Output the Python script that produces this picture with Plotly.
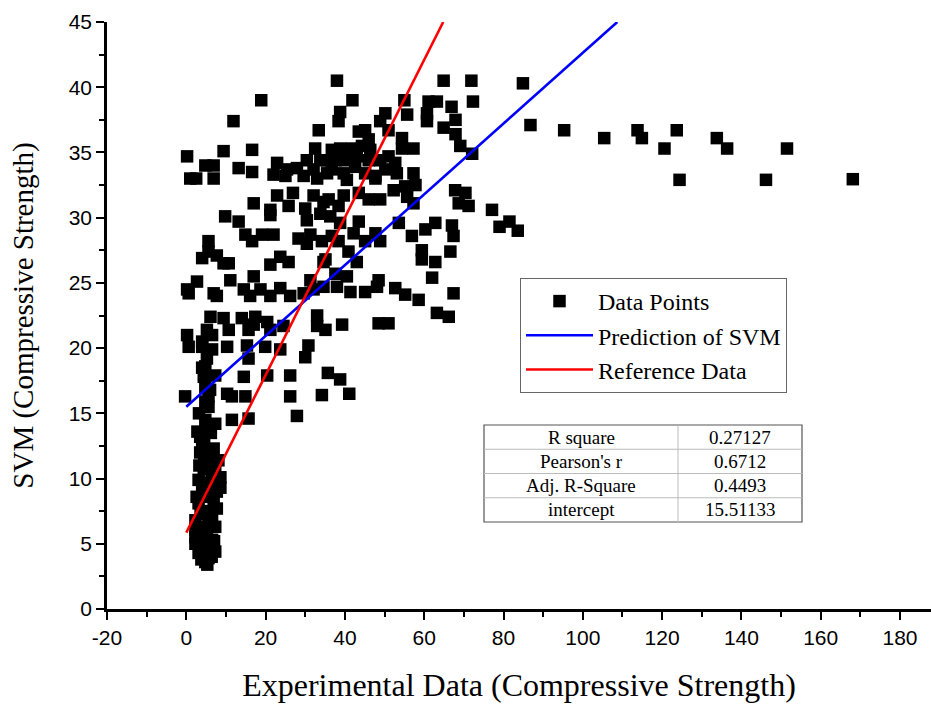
import plotly.graph_objects as go

# ---- Data points (Experimental vs SVM compressive strength) ----
far_right = [(84.9,40.3),(86.8,37.1),(95.3,36.7),(105.4,36.1),(113.8,36.7),(114.9,36.1),(120.6,35.3),
             (123.7,36.7),(124.4,32.9),(133.8,36.1),(136.4,35.3),(146.2,32.9),(151.5,35.3),(168.1,32.95),
             (77.1,30.6),(79.0,29.3),(81.5,29.7),(83.6,29.0)]
mid_upper = [(38.0,40.5),(64.9,40.5),(71.9,40.5),(41.9,39.0),(72.3,38.9),(55.0,39.0),(38.8,38.1),(38.4,37.4),
             (61.1,38.9),(63.2,38.9),(66.9,38.5),(60.7,38.0),(60.7,37.4),(55.7,37.9),(67.9,37.5),(50.2,38.0),
             (48.9,37.4),(64.9,36.9),(67.9,36.4),(69.1,35.5),(72.1,34.9),(43.5,36.6),(45.1,36.7),(46.0,36.0),
             (51.0,36.7),(54.4,36.1),(57.3,35.3),(54.4,35.3),
             (36.7,35.2),(38.8,35.3),(41.8,35.3),(44.3,35.5),(46.4,35.2),(37.6,34.4),(40.1,34.4),(43.0,34.7),
             (46.0,34.4),(48.9,34.4),(51.0,34.7),(52.7,34.2),(36.7,33.7),(39.7,33.4),(42.6,33.9),(45.1,33.4),
             (47.7,33.2),(50.2,33.7),(53.1,33.4),(40.5,32.9),
             (57.3,33.4),(57.8,32.5),(55.2,32.4),(52.3,32.1),(47.7,33.0),(39.7,31.7),(43.5,31.9),(35.9,31.4),
             (46.0,31.4),(48.9,31.4),(55.7,31.6),(57.3,31.1),(67.8,32.1),(70.4,31.9),(71.2,30.9),(68.7,31.1),
             (38.4,30.9),(36.3,30.1),(38.8,29.6),(43.5,29.7),(53.6,29.6),(42.2,28.8),(47.7,28.8),(48.9,28.2),
             (45.1,28.2),(56.9,28.6),(60.3,29.1),(62.8,29.6),(67.0,29.4),(67.4,28.6),(36.7,28.6),(38.4,28.2),
             (40.9,27.4),(43.0,26.6),(59.4,27.5),(59.4,26.8),(62.8,26.6),(66.6,27.4),(35.1,26.8),(37.6,25.7),
             (40.5,25.5),(48.5,25.2),(48.1,24.7),(62.0,25.4),(38.0,24.7),(41.4,24.3),(45.1,24.3),(52.7,24.6),
             (55.2,24.1),(58.6,23.7),(67.4,24.2),(63.2,22.7),(66.2,22.4),(39.3,21.8),(48.5,21.9),(51.0,21.9),
             (35.1,21.4)]
left_upper = [(18.9,39.0),(11.9,37.4),(33.4,36.7),(0.2,34.7),(9.4,35.1),(16.6,35.2),(32.5,35.3),(4.8,34.0),
              (6.9,34.0),(1.0,33.0),(2.5,33.0),(6.9,33.0),(13.2,33.8),(16.6,33.5),(22.9,34.2),(22.0,33.3),
              (25.4,33.7),(27.9,33.8),(30.4,34.4),(32.1,33.7),(33.8,34.4),(35.5,34.4),(25.0,33.2),(29.6,33.2),
              (33.0,33.0),(35.5,33.4),(22.9,31.7),(26.9,31.9),(32.1,31.7),(34.6,31.2),(17.0,31.1),(21.2,30.6),
              (21.2,30.2),(25.8,30.9),(30.0,30.7),(30.4,29.8),(33.8,30.3),(9.8,30.1),(13.2,29.7),(14.9,28.7),
              (16.6,28.2),(19.1,28.7),(22.0,28.7),(5.6,28.2),(28.3,28.4),(31.3,28.7),(30.4,28.0),(34.2,28.2),
              (5.6,27.4),(4.0,26.9),(7.7,27.1),(9.4,26.5),(10.7,26.5),(23.7,27.0),(21.2,26.4),(25.8,26.6),
              (34.6,26.6),(2.7,25.1),(0.2,24.5),(0.6,24.2),(6.9,24.2),(7.7,24.0),(11.1,25.2),(17.0,25.5),
              (14.5,24.5),(16.1,24.0),(18.7,24.5),(21.2,24.0),(23.7,24.6),(26.2,24.0),(29.6,24.2),(31.3,25.2),
              (32.1,24.5),(34.6,24.7),(6.1,22.4),(9.4,22.3),(14.0,22.3),(17.4,22.4),(20.4,22.0),(17.0,21.8),
              (5.2,21.4),(10.7,21.4),(15.7,21.4),(21.2,21.4),(24.5,21.7),(33.0,22.5),(33.0,21.7),(0.2,21.0)]
lower = [(0.6,20.1),(4.0,20.1),(6.5,19.9),(10.3,20.1),(15.3,20.2),(19.9,20.1),(23.7,19.9),(30.8,20.2),
         (15.7,19.2),(30.0,19.3),(4.8,18.6),(4.4,17.8),(4.8,17.0),(7.3,17.9),(14.5,17.8),(20.4,17.9),
         (26.2,17.9),(35.7,18.1),(38.8,17.6),(-0.3,16.3),(5.6,16.3),(10.3,16.5),(11.5,16.3),(14.9,16.3),
         (26.2,16.3),(34.2,16.4),(41.1,16.5),(5.6,15.5),(4.8,14.5),(7.3,14.2),(11.5,14.5),(15.7,14.6),
         (27.9,14.8),(3.5,13.2),(4.0,12.7),(2.8,13.6),(4.5,13.0),(6.2,13.5),(3.2,15.0),(5.5,14.0),
         (4.8,15.9),(6.0,16.8),(4.0,18.5),(5.2,19.2),(4.0,20.5),(6.5,21.0)]
column = [(5.6,11.4),(8.1,11.4),(3.1,9.9),(6.5,10.1),(8.6,9.3),(4.8,8.9),(3.1,8.1),(6.9,8.1),(7.7,7.7),
          (4.0,7.3),(6.5,7.1),(2.3,6.8),(5.6,6.6),(7.3,6.3),(2.3,6.1),(4.8,5.8),(6.5,5.3),(2.3,5.0),
          (4.0,4.8),(5.6,4.5),(3.1,4.3),(5.6,3.9),(4.8,3.6),(7.3,4.4),(6.1,8.6),(8.6,10.1),(2.6,8.6),
          (2.3,5.5),(3.5,12.0),(6.9,12.3),(4.4,10.7),(7.7,9.0),(3.6,7.5),(6.0,7.5),(3.0,6.3),(5.2,6.0),
          (7.0,5.2),(3.5,5.3),(4.2,4.0),(6.4,4.0),(3.8,3.8),(5.3,3.4),(4.0,9.5),(5.8,9.7),(7.3,11.0),
          (4.5,11.8),(3.3,11.0),(6.2,11.0)]

all_pts = far_right + mid_upper + left_upper + lower + column
exp_x = [p[0] for p in all_pts]
svm_y = [p[1] for p in all_pts]

# ---- Fitted / reference lines ----
svm_line_x = [0, 108.7]
svm_line_y = [15.51133, 45.0]
ref_line_x = [0, 64.8]
ref_line_y = [5.85, 45.0]

# ---- Tick labels ----
x_tick_vals = [-20, 0, 20, 40, 60, 80, 100, 120, 140, 160, 180]
x_tick_text = ["-20", "0", "20", "40", "60", "80", "100", "120", "140", "160", "180"]

# ---- Statistics table ----
table_labels = ["R square", "Pearson's r", "Adj. R-Square", "intercept"]
table_values = ["0.27127", "0.6712", "0.4493", "15.51133"]

serif = "Liberation Serif, Times New Roman, serif"
narrow = "Liberation Sans Narrow, Arial Narrow, Liberation Sans, Arial, sans-serif"

fig = go.Figure()
fig.add_trace(go.Scatter(x=exp_x, y=svm_y, mode="markers", name="Data Points",
                         marker=dict(symbol="square", size=12.5, color="black", line=dict(width=0))))
fig.add_trace(go.Scatter(x=svm_line_x, y=svm_line_y, mode="lines", name="Prediction of SVM",
                         line=dict(color="#0000ff", width=2.6)))
fig.add_trace(go.Scatter(x=ref_line_x, y=ref_line_y, mode="lines", name="Reference Data",
                         line=dict(color="#ff0000", width=2.6)))

# table geometry in paper coordinates
W, H = 824.0, 587.0
def px_x(p): return (p - 107) / W
def px_y(p): return (609 - p) / H
tx0, tx1, tmid = 484, 802, 678
ty0, ty1 = 425, 522
rowh = (ty1 - ty0) / 4
shapes = []
shapes.append(dict(type="rect", xref="paper", yref="paper", x0=px_x(tx0), x1=px_x(tx1),
                   y0=px_y(ty1), y1=px_y(ty0), line=dict(color="#555555", width=1.2), fillcolor="white",
                   layer="above"))
for i in range(1, 4):
    yy = px_y(ty0 + i * rowh)
    shapes.append(dict(type="line", xref="paper", yref="paper", x0=px_x(tx0), x1=px_x(tx1),
                       y0=yy, y1=yy, line=dict(color="#bbbbbb", width=1), layer="above"))
shapes.append(dict(type="line", xref="paper", yref="paper", x0=px_x(tmid), x1=px_x(tmid),
                   y0=px_y(ty1), y1=px_y(ty0), line=dict(color="#bbbbbb", width=1), layer="above"))
annotations = []
for i, (lab, val) in enumerate(zip(table_labels, table_values)):
    yc = px_y(ty0 + (i + 0.5) * rowh)
    annotations.append(dict(x=px_x((tx0 + tmid) / 2), y=yc, xref="paper", yref="paper", text=lab,
                            xanchor="center", yanchor="middle",
                            showarrow=False, font=dict(family=serif, size=19, color="black")))
    annotations.append(dict(x=px_x((tmid + tx1) / 2), y=yc, xref="paper", yref="paper", text=val,
                            xanchor="center", yanchor="middle",
                            showarrow=False, font=dict(family=serif, size=19, color="black")))

fig.update_layout(
    width=931, height=706,
    margin=dict(l=107, r=0, t=22, b=97),
    paper_bgcolor="white", plot_bgcolor="white",
    showlegend=True,
    legend=dict(x=px_x(520), y=px_y(278), xanchor="left", yanchor="top",
                bgcolor="white", bordercolor="#666666", borderwidth=1, itemwidth=67,
                font=dict(family=serif, size=24, color="black"), tracegroupgap=0),
    shapes=shapes, annotations=annotations,
    xaxis=dict(range=[-20, -20 + W / 3.965], tickmode="array", tickvals=x_tick_vals, ticktext=x_tick_text,
               showgrid=False, zeroline=False, showline=True, linecolor="black", linewidth=2.5,
               ticks="outside", ticklen=8, tickwidth=2, tickcolor="black",
               minor=dict(dtick=10, tick0=-20, ticks="outside", ticklen=5, tickwidth=2, tickcolor="black"),
               tickfont=dict(family=narrow, size=21, color="black"),
               title=dict(text="Experimental Data (Compressive Strength)", standoff=26,
                          font=dict(family=serif, size=32, color="black"))),
    yaxis=dict(range=[0, 45], tickmode="linear", tick0=0, dtick=5,
               showgrid=False, zeroline=False, showline=True, linecolor="black", linewidth=2.5,
               ticks="outside", ticklen=8, tickwidth=2, tickcolor="black",
               minor=dict(dtick=2.5, tick0=0, ticks="outside", ticklen=5, tickwidth=2, tickcolor="black"),
               tickfont=dict(family=narrow, size=21, color="black"),
               title=dict(text="SVM (Compressive Strength)", standoff=27,
                          font=dict(family=serif, size=29, color="black"))),
)

fig.write_html("out.html")
